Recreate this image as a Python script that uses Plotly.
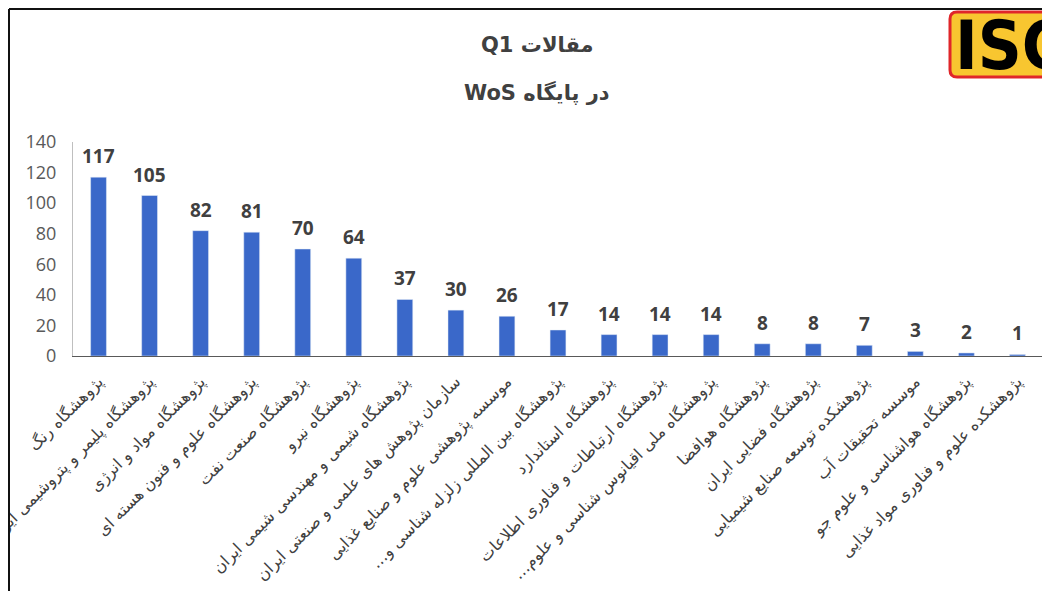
import plotly.graph_objects as go

# data
institutes = [
    'پژوهشگاه رنگ',
    'پژوهشگاه پلیمر و پتروشیمی ایران',
    'پژوهشگاه مواد و انرژی',
    'پژوهشگاه علوم و فنون هسته ای',
    'پژوهشگاه صنعت نفت',
    'پژوهشگاه نیرو',
    'پژوهشگاه شیمی و مهندسی شیمی ایران',
    'سازمان پژوهش های علمی و صنعتی ایران',
    'موسسه پژوهشی علوم و صنایع غذایی',
    'پژوهشگاه بین المللی زلزله شناسی و…',
    'پژوهشگاه استاندارد',
    'پژوهشگاه ارتباطات و فناوری اطلاعات',
    'پژوهشگاه ملی اقیانوس شناسی و علوم…',
    'پژوهشگاه هوافضا',
    'پژوهشگاه فضایی ایران',
    'پژوهشکده توسعه صنایع شیمیایی',
    'موسسه تحقیقات آب',
    'پژوهشگاه هواشناسی و علوم جو',
    'پژوهشکده علوم و فناوری مواد غذایی',
]
q1_papers = [117, 105, 82, 81, 70, 64, 37, 30, 26, 17, 14, 14, 14, 8, 8, 7, 3, 2, 1]
y_ticks = [0, 20, 40, 60, 80, 100, 120, 140]
title_lines = ['مقالات Q1', 'در پایگاه WoS']


def rtl(s):
    # right-to-left embedding so mixed Persian/Latin text is ordered as in the original
    return '\u202b' + s + '\u202c'


# the page body has an 8px margin, so the figure is sized to fill the window
OFF = 8
W, H = 1050 - OFF, 591 - OFF
M = dict(l=73 - OFF, r=7, t=142 - OFF, b=235)


def px_x(p):
    return (p - OFF - M['l']) / (W - M['l'] - M['r'])


def px_y(p):
    return 1 - (p - OFF - M['t']) / (H - M['t'] - M['b'])


labels = [rtl(s) for s in institutes]

fig = go.Figure(go.Bar(
    x=labels,
    y=q1_papers,
    marker=dict(color='#3a68c9'),
    width=0.31,
    hoverinfo='y',
))

# value labels above the bars
for name, val in zip(labels, q1_papers):
    fig.add_annotation(
        x=name, y=val, text=f'<b>{val}</b>', showarrow=False,
        yanchor='bottom', yshift=6,
        font=dict(family='Open Sans, DejaVu Sans', size=19, color='#404040'),
    )

# two-line title
for line, ypix in zip(title_lines, [45, 93]):
    fig.add_annotation(
        xref='paper', yref='paper', x=px_x(537), y=px_y(ypix),
        xanchor='center', yanchor='middle',
        text='<b>' + rtl(line) + '</b>', showarrow=False,
        font=dict(family='DejaVu Sans', size=21, color='#404040'),
    )

# ISC logo in the top right corner (cut by the window edge)
x0, x1, y0, y1, rad = 950, 1075, 12, 77, 7
logo_path = (
    f'M {px_x(x0 + rad)},{px_y(y0)} L {px_x(x1 - rad)},{px_y(y0)} '
    f'Q {px_x(x1)},{px_y(y0)} {px_x(x1)},{px_y(y0 + rad)} '
    f'L {px_x(x1)},{px_y(y1 - rad)} Q {px_x(x1)},{px_y(y1)} {px_x(x1 - rad)},{px_y(y1)} '
    f'L {px_x(x0 + rad)},{px_y(y1)} Q {px_x(x0)},{px_y(y1)} {px_x(x0)},{px_y(y1 - rad)} '
    f'L {px_x(x0)},{px_y(y0 + rad)} Q {px_x(x0)},{px_y(y0)} {px_x(x0 + rad)},{px_y(y0)} Z'
)
fig.add_shape(type='path', xref='paper', yref='paper', path=logo_path,
              fillcolor='#f8c630', line=dict(color='#e0262a', width=3))
fig.add_annotation(
    xref='paper', yref='paper', x=px_x(953), y=px_y(46),
    xanchor='left', yanchor='middle', showarrow=False,
    text='<b>ISC</b>',
    font=dict(family='DejaVu Sans Condensed, DejaVu Sans', size=68, color='#000000'),
)

# frame lines (top and left)
fig.add_shape(type='line', xref='paper', yref='paper',
              x0=px_x(9), x1=px_x(1060), y0=px_y(9), y1=px_y(9),
              line=dict(color='#111111', width=2))
fig.add_shape(type='line', xref='paper', yref='paper',
              x0=px_x(9), x1=px_x(9), y0=px_y(9), y1=px_y(600),
              line=dict(color='#111111', width=2))

fig.update_layout(
    width=W, height=H,
    margin=M,
    paper_bgcolor='white',
    plot_bgcolor='white',
    showlegend=False,
    xaxis=dict(
        type='category',
        tickangle=-45,
        tickfont=dict(family='DejaVu Sans', size=16, color='#404040'),
        showline=True, linecolor='#595959', linewidth=1,
        showgrid=False, automargin=False,
        ticks='outside', ticklen=9, tickcolor='rgba(0,0,0,0)',
    ),
    yaxis=dict(
        range=[0, 140],
        tickvals=y_ticks,
        tickfont=dict(family='Open Sans, DejaVu Sans', size=18, color='#595959'),
        showline=True, linecolor='#bfbfbf', linewidth=1,
        showgrid=False, zeroline=False,
        ticks='outside', ticklen=12, tickcolor='rgba(0,0,0,0)',
        automargin=False,
    ),
)

fig.write_html('out.html')
